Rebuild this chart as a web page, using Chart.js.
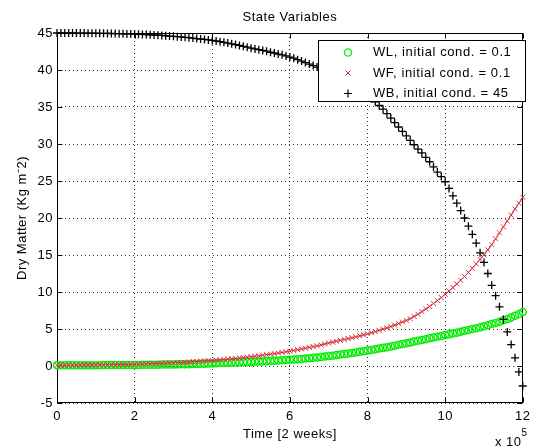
<!DOCTYPE html>
<html>
<head>
<meta charset="utf-8">
<style>
    html, body { margin: 0; padding: 0; background: #fff; }
    canvas { display: block; }
</style>
</head>
<body>
<canvas id="myChart" width="536" height="448"></canvas>

<script src="https://cdn.jsdelivr.net/npm/chart.js@4.4.0/dist/chart.umd.min.js"></script>
<script>
    // time is in units of 1e5 (the "x 10^5" under the axis)
    const time = [
        0, 0.1, 0.2, 0.3, 0.4, 0.5, 0.6, 0.7, 0.8, 0.9,
        1, 1.1, 1.2, 1.3, 1.4, 1.5, 1.6, 1.7, 1.8, 1.9,
        2, 2.1, 2.2, 2.3, 2.4, 2.5, 2.6, 2.7, 2.8, 2.9,
        3, 3.1, 3.2, 3.3, 3.4, 3.5, 3.6, 3.7, 3.8, 3.9,
        4, 4.1, 4.2, 4.3, 4.4, 4.5, 4.6, 4.7, 4.8, 4.9,
        5, 5.1, 5.2, 5.3, 5.4, 5.5, 5.6, 5.7, 5.8, 5.9,
        6, 6.1, 6.2, 6.3, 6.4, 6.5, 6.6, 6.7, 6.8, 6.9,
        7, 7.1, 7.2, 7.3, 7.4, 7.5, 7.6, 7.7, 7.8, 7.9,
        8, 8.1, 8.2, 8.3, 8.4, 8.5, 8.6, 8.7, 8.8, 8.9,
        9, 9.1, 9.2, 9.3, 9.4, 9.5, 9.6, 9.7, 9.8, 9.9,
        10, 10.1, 10.2, 10.3, 10.4, 10.5, 10.6, 10.7, 10.8, 10.9,
        11, 11.1, 11.2, 11.3, 11.4, 11.5, 11.6, 11.7, 11.8, 11.9,
        12
    ]

    const wl = [
        0.10, 0.10, 0.10, 0.10, 0.10, 0.10, 0.10, 0.11, 0.11, 0.11,
        0.11, 0.11, 0.12, 0.12, 0.12, 0.13, 0.13, 0.13, 0.14, 0.14,
        0.15, 0.15, 0.16, 0.16, 0.17, 0.17, 0.18, 0.19, 0.19, 0.20,
        0.21, 0.22, 0.23, 0.24, 0.25, 0.26, 0.28, 0.29, 0.31, 0.33,
        0.35, 0.37, 0.39, 0.41, 0.43, 0.45, 0.47, 0.49, 0.51, 0.53,
        0.55, 0.57, 0.60, 0.62, 0.65, 0.68, 0.71, 0.74, 0.77, 0.80,
        0.84, 0.88, 0.92, 0.96, 1.01, 1.06, 1.11, 1.16, 1.22, 1.28,
        1.34, 1.40, 1.47, 1.54, 1.61, 1.68, 1.76, 1.84, 1.92, 2.00,
        2.08, 2.17, 2.26, 2.35, 2.45, 2.55, 2.65, 2.75, 2.86, 2.97,
        3.08, 3.19, 3.30, 3.41, 3.52, 3.63, 3.74, 3.85, 3.96, 4.07,
        4.18, 4.29, 4.40, 4.51, 4.63, 4.75, 4.87, 4.99, 5.11, 5.24,
        5.37, 5.51, 5.66, 5.82, 5.99, 6.17, 6.36, 6.56, 6.78, 7.02,
        7.30
    ]

    const wf = [
        0.10, 0.10, 0.11, 0.11, 0.12, 0.12, 0.13, 0.13, 0.14, 0.14,
        0.15, 0.16, 0.17, 0.17, 0.18, 0.19, 0.20, 0.21, 0.22, 0.23,
        0.25, 0.26, 0.27, 0.29, 0.30, 0.32, 0.34, 0.36, 0.38, 0.40,
        0.42, 0.45, 0.48, 0.51, 0.54, 0.57, 0.60, 0.64, 0.68, 0.72,
        0.76, 0.80, 0.84, 0.89, 0.93, 0.98, 1.03, 1.08, 1.14, 1.20,
        1.26, 1.32, 1.38, 1.45, 1.52, 1.59, 1.67, 1.75, 1.83, 1.92,
        2.01, 2.10, 2.20, 2.30, 2.40, 2.51, 2.62, 2.73, 2.85, 2.97,
        3.10, 3.22, 3.34, 3.46, 3.58, 3.70, 3.82, 3.94, 4.07, 4.21,
        4.35, 4.50, 4.65, 4.81, 4.98, 5.16, 5.34, 5.53, 5.73, 5.94,
        6.15, 6.40, 6.70, 7.00, 7.35, 7.70, 8.05, 8.45, 8.85, 9.25,
        9.70, 10.15, 10.60, 11.10, 11.60, 12.10, 12.65, 13.20, 13.80, 14.40,
        15.00, 15.70, 16.40, 17.20, 18.00, 18.80, 19.60, 20.40, 21.20, 22.00,
        22.80
    ]

    const wb = [
        45.00, 45.00, 45.00, 45.00, 45.00, 44.99, 44.99, 44.99, 44.98, 44.98,
        44.97, 44.96, 44.95, 44.94, 44.93, 44.92, 44.91, 44.90, 44.88, 44.87,
        44.85, 44.83, 44.81, 44.79, 44.76, 44.73, 44.70, 44.67, 44.63, 44.59,
        44.55, 44.51, 44.47, 44.42, 44.37, 44.31, 44.25, 44.19, 44.13, 44.07,
        44.00, 43.92, 43.83, 43.74, 43.64, 43.54, 43.43, 43.32, 43.20, 43.08,
        42.95, 42.85, 42.75, 42.65, 42.55, 42.40, 42.30, 42.15, 42.05, 41.90,
        41.75, 41.60, 41.40, 41.20, 41.00, 40.80, 40.60, 40.40, 40.20, 40.00,
        39.80, 39.50, 39.20, 38.90, 38.60, 38.30, 38.00, 37.60, 37.30, 36.90,
        36.50, 36.10, 35.70, 35.20, 34.70, 34.10, 33.50, 32.90, 32.30, 31.70,
        31.10, 30.50, 29.90, 29.30, 28.80, 28.20, 27.60, 26.90, 26.20, 25.60,
        24.90, 24.00, 23.00, 22.00, 21.00, 20.00, 18.90, 17.80, 16.60, 15.30,
        14.00, 12.50, 10.90, 9.50, 8.00, 6.30, 4.60, 2.90, 1.10, -0.80,
        -2.70
    ]

    const xTicks = [0, 2, 4, 6, 8, 10, 12]
    const yTicks = [-5, 0, 5, 10, 15, 20, 25, 30, 35, 40, 45]
    const legendLabels = ['WL, initial cond. = 0.1', 'WF, initial cond. = 0.1', 'WB, initial cond. = 45']

    const FONT = '"Liberation Sans", Arial, sans-serif'
    const GREEN = 'rgb(10, 235, 10)'
    const RED = 'rgb(215, 50, 60)'

    const toPoints = ys => ys.map((y, i) => ({ x: time[i], y: y }))

    Chart.defaults.font.family = FONT
    Chart.defaults.font.size = 13
    Chart.defaults.color = '#000'

    // box, inward ticks, titles and the boxed legend
    const matlabAxes = {
        id: 'matlabAxes',
        beforeDraw(chart) {
            // the old windows font runs a bit wide
            chart.ctx.letterSpacing = '0.5px'
        },
        beforeDatasetsDraw(chart) {
            const { ctx, chartArea: a, scales: { x, y } } = chart
            ctx.save()
            ctx.strokeStyle = '#000'
            ctx.lineWidth = 1
            const l = Math.round(a.left) + 0.5, r = Math.round(a.right) - 0.5
            const t = Math.round(a.top) + 0.5, b = Math.round(a.bottom) - 0.5
            ctx.strokeRect(l, t, r - l, b - t)
            ctx.beginPath()
            xTicks.forEach(v => {
                const px = Math.round(x.getPixelForValue(v)) + 0.5
                ctx.moveTo(px, b); ctx.lineTo(px, b - 5)
                ctx.moveTo(px, t); ctx.lineTo(px, t + 5)
            })
            yTicks.forEach(v => {
                const py = Math.round(y.getPixelForValue(v)) + 0.5
                ctx.moveTo(l, py); ctx.lineTo(l + 5, py)
                ctx.moveTo(r, py); ctx.lineTo(r - 5, py)
            })
            ctx.stroke()

            ctx.fillStyle = '#000'
            ctx.font = '13px ' + FONT
            ctx.textAlign = 'center'
            ctx.textBaseline = 'middle'
            const cx = (a.left + a.right) / 2
            ctx.fillText('State Variables', cx, 17)
            ctx.fillText('Time [2 weeks]', cx, 434)

            ctx.save()
            ctx.translate(22, (a.top + a.bottom) / 2)
            ctx.rotate(-Math.PI / 2)
            ctx.fillText('Dry Matter (Kg m\u207B2)', 0, 0)
            ctx.restore()

            ctx.textAlign = 'left'
            ctx.fillText('x 10', 495, 442)
            const w = ctx.measureText('x 10').width
            ctx.font = '10px ' + FONT
            ctx.fillText('5', 495 + w, 433)
            ctx.restore()
        },
        afterDraw(chart) {
            const { ctx } = chart
            ctx.save()
            ctx.fillStyle = '#fff'
            ctx.strokeStyle = '#000'
            ctx.lineWidth = 1
            ctx.fillRect(318.5, 40.5, 207, 61)
            ctx.strokeRect(318.5, 40.5, 207, 61)

            const rows = [52.5, 73, 93.5]
            const mx = 348
            ctx.lineWidth = 1.4
            // WL circle
            ctx.strokeStyle = GREEN
            ctx.beginPath()
            ctx.arc(mx, rows[0], 3.6, 0, Math.PI * 2)
            ctx.stroke()
            // WF x
            ctx.strokeStyle = RED
            ctx.lineWidth = 1
            ctx.beginPath()
            ctx.moveTo(mx - 2.5, rows[1] - 2.5); ctx.lineTo(mx + 2.5, rows[1] + 2.5)
            ctx.moveTo(mx - 2.5, rows[1] + 2.5); ctx.lineTo(mx + 2.5, rows[1] - 2.5)
            ctx.stroke()
            // WB +
            ctx.strokeStyle = '#000'
            ctx.lineWidth = 1.2
            ctx.beginPath()
            ctx.moveTo(mx - 4, rows[2]); ctx.lineTo(mx + 4, rows[2])
            ctx.moveTo(mx, rows[2] - 4); ctx.lineTo(mx, rows[2] + 4)
            ctx.stroke()

            ctx.fillStyle = '#000'
            ctx.font = '13px ' + FONT
            ctx.letterSpacing = '0.6px'
            ctx.textAlign = 'left'
            ctx.textBaseline = 'middle'
            legendLabels.forEach((txt, i) => ctx.fillText(txt, 373, rows[i]))
            ctx.restore()
        }
    }

    const ctx = document.getElementById('myChart').getContext('2d')
    const chart = new Chart(ctx, {
        type: 'scatter',
        data: {
            // first dataset is drawn on top
            datasets: [{
                label: 'WB',
                data: toPoints(wb),
                showLine: false,
                pointStyle: 'cross',
                pointRadius: 4,
                pointBorderWidth: 1.3,
                pointBorderColor: '#000',
                pointBackgroundColor: '#000',
                clip: false
            }, {
                label: 'WF',
                data: toPoints(wf),
                showLine: true,
                borderColor: RED,
                borderWidth: 1,
                pointStyle: 'crossRot',
                pointRadius: 3.5,
                pointBorderWidth: 1,
                pointBorderColor: RED,
                pointBackgroundColor: RED,
                clip: false
            }, {
                label: 'WL',
                data: toPoints(wl),
                showLine: false,
                pointStyle: 'circle',
                pointRadius: 3.5,
                pointBorderWidth: 1.5,
                pointBorderColor: GREEN,
                pointBackgroundColor: 'rgba(0,0,0,0)',
                clip: false
            }]
        },
        options: {
            responsive: false,
            maintainAspectRatio: false,
            animation: false,
            devicePixelRatio: 1,
            layout: { padding: { top: 33, right: 10, left: 0, bottom: 0 } },
            plugins: {
                legend: { display: false },
                title: { display: false },
                tooltip: { enabled: false }
            },
            scales: {
                x: {
                    type: 'linear',
                    min: 0,
                    max: 12,
                    afterBuildTicks: scale => { scale.ticks = xTicks.map(v => ({ value: v })) },
                    afterFit: scale => { scale.height = 45 },
                    ticks: { padding: 6, maxRotation: 0, autoSkip: false, color: '#000' },
                    grid: { drawTicks: false, color: 'rgba(0,0,0,0.8)', lineWidth: 1 },
                    border: { display: false, dash: [1, 3] }
                },
                y: {
                    type: 'linear',
                    min: -5,
                    max: 45,
                    afterBuildTicks: scale => { scale.ticks = yTicks.map(v => ({ value: v })) },
                    afterFit: scale => { scale.width = 57 },
                    ticks: { padding: 4, autoSkip: false, color: '#000' },
                    grid: { drawTicks: false, color: 'rgba(0,0,0,0.8)', lineWidth: 1 },
                    border: { display: false, dash: [1, 3] }
                }
            }
        },
        plugins: [matlabAxes]
    })
</script>
</body>
</html>
